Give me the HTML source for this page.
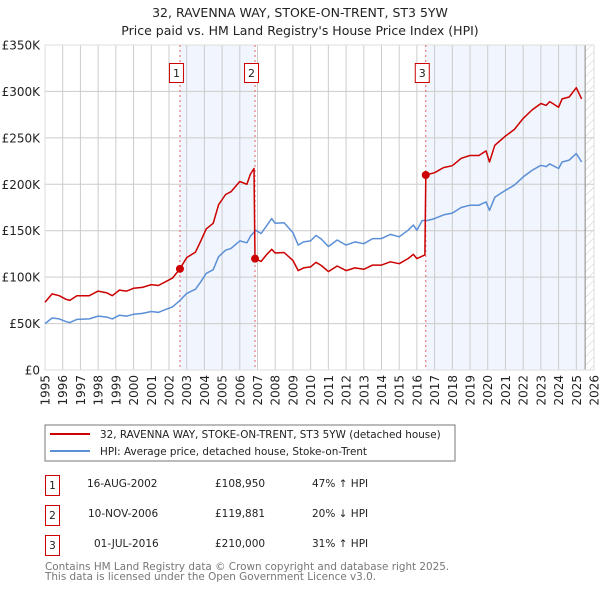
<!DOCTYPE html>
<html><head><meta charset="utf-8"><style>
body{margin:0;background:#fff;font-family:"DejaVu Sans","Liberation Sans",sans-serif;}
svg text{font-family:"DejaVu Sans","Liberation Sans",sans-serif;}
</style></head><body>
<svg id="c" width="600" height="590" xmlns="http://www.w3.org/2000/svg">
<defs><pattern id="hatch" width="6" height="6" patternUnits="userSpaceOnUse" patternTransform="rotate(45)"><line x1="0" y1="0" x2="0" y2="6" stroke="#ccc" stroke-width="1"/></pattern></defs>
<text x="300" y="17" text-anchor="middle" font-size="12.5" fill="#222">32, RAVENNA WAY, STOKE-ON-TRENT, ST3 5YW</text>
<text x="300" y="35" text-anchor="middle" font-size="12.5" fill="#222">Price paid vs. HM Land Registry's House Price Index (HPI)</text>
<g id="plot"></g>
<rect x="45" y="425" width="410" height="36" fill="#fff" stroke="#777"/>
<line x1="50" y1="434" x2="90" y2="434" stroke="#cc0000" stroke-width="2"/>
<text x="100" y="438" font-size="10.4" fill="#222">32, RAVENNA WAY, STOKE-ON-TRENT, ST3 5YW (detached house)</text>
<line x1="50" y1="451" x2="90" y2="451" stroke="#5b8fd6" stroke-width="2"/>
<text x="100" y="455" font-size="10.4" fill="#222">HPI: Average price, detached house, Stoke-on-Trent</text>
<g font-size="10.5" fill="#222">
<rect x="45.5" y="475.5" width="14" height="20" fill="none" stroke="#cc0000"/><text x="52.5" y="489" text-anchor="middle">1</text>
<text x="87" y="487">16-AUG-2002</text><text x="215" y="487">£108,950</text><text x="312" y="487">47% ↑ HPI</text>
<rect x="45.5" y="505.5" width="14" height="20" fill="none" stroke="#cc0000"/><text x="52.5" y="519" text-anchor="middle">2</text>
<text x="88" y="517">10-NOV-2006</text><text x="215" y="517">£119,881</text><text x="312" y="517">20% ↓ HPI</text>
<rect x="45.5" y="535.5" width="14" height="20" fill="none" stroke="#cc0000"/><text x="52.5" y="549" text-anchor="middle">3</text>
<text x="94" y="547">01-JUL-2016</text><text x="215" y="547">£210,000</text><text x="312" y="547">31% ↑ HPI</text>
</g>
<text x="45" y="570" font-size="10.4" fill="#777">Contains HM Land Registry data © Crown copyright and database right 2025.</text>
<text x="45" y="580" font-size="10.4" fill="#777">This data is licensed under the Open Government Licence v3.0.</text>
</svg>
<script>
const hpiT=[1995.0,1995.4,1995.8,1996.2,1996.4,1996.8,1997.5,1998.0,1998.5,1998.8,1999.2,1999.6,2000.0,2000.5,2001.0,2001.4,2001.8,2002.2,2002.6,2003.0,2003.5,2003.8,2004.1,2004.5,2004.8,2005.2,2005.5,2006.0,2006.4,2006.6,2006.9,2007.2,2007.5,2007.8,2008.0,2008.5,2009.0,2009.3,2009.6,2010.0,2010.3,2010.6,2011.0,2011.5,2012.0,2012.5,2013.0,2013.5,2014.0,2014.5,2015.0,2015.5,2015.8,2016.0,2016.3,2016.6,2017.0,2017.5,2018.0,2018.5,2019.0,2019.5,2019.9,2020.1,2020.4,2021.0,2021.5,2022.0,2022.5,2023.0,2023.3,2023.5,2024.0,2024.2,2024.6,2025.0,2025.3];
const hpiV=[50,56,55,52,51,54.5,55,58,57,55,59,58,60,61,63,62,65,68,74.5,82.5,87,95,104,108,122,129,131,139,137,144,150.5,147,155,163,158,158.5,148,134.5,138,139,145,141,133,140,134.5,138,136,141.5,141.5,146,143.5,150.5,156,150.5,161,161,163,167,169,175,177.5,177.5,181,172,186,193.5,199,208,215,220.5,219,222,217,224,226,233,224];
const redT=[1995.0,1995.4,1995.8,1996.2,1996.4,1996.8,1997.5,1998.0,1998.5,1998.8,1999.2,1999.6,2000.0,2000.5,2001.0,2001.4,2001.8,2002.2,2002.62,2003.0,2003.5,2003.8,2004.1,2004.5,2004.8,2005.2,2005.5,2006.0,2006.4,2006.6,2006.8,2006.86,2007.2,2007.5,2007.8,2008.0,2008.5,2009.0,2009.3,2009.6,2010.0,2010.3,2010.6,2011.0,2011.5,2012.0,2012.5,2013.0,2013.5,2014.0,2014.5,2015.0,2015.5,2015.8,2016.0,2016.45,2016.5,2017.0,2017.5,2018.0,2018.5,2019.0,2019.5,2019.9,2020.1,2020.4,2021.0,2021.5,2022.0,2022.5,2023.0,2023.3,2023.5,2024.0,2024.2,2024.6,2025.0,2025.3];
const redV=[73,82,80,76,75,80,80,85,83,80,86,85,88,89,92,91,95,99,108.95,121,127,139,152,158,178,189,192,203,200,211,217,119.881,117,124,130,126,126.5,118,107,110,111,116,112.5,106,112,107,110,108.5,113,113,116.5,114.5,120,124.5,120,124,210,212.5,218,220,228,231,231,236,224,242,252,259,271,280,287,285,289,283,292,294,304,292];
const saleT=[2002.62,2006.86,2016.5];
const saleV=[108.95,119.881,210];
const saleLabels=["1","2","3"];
const yTicks=[0,50,100,150,200,250,300,350];
const yTickLabels=["£0","£50K","£100K","£150K","£200K","£250K","£300K","£350K"];
const xYears=[1995,1996,1997,1998,1999,2000,2001,2002,2003,2004,2005,2006,2007,2008,2009,2010,2011,2012,2013,2014,2015,2016,2017,2018,2019,2020,2021,2022,2023,2024,2025,2026];

const L=45,R=594,T=45,B=370;
const X=t=>L+(t-1995)/(2026-1995)*(R-L);
const Y=v=>B-v/350*(B-T);
const NS="http://www.w3.org/2000/svg";
const g=document.getElementById('plot');
function mk(tag,attrs,parent){const e=document.createElementNS(NS,tag);for(const k in attrs)e.setAttribute(k,attrs[k]);(parent||g).appendChild(e);return e;}

const sh1=mk('rect',{x:X(saleT[0]),y:T,width:X(saleT[1])-X(saleT[0]),height:B-T,fill:'#eef3fd',opacity:0.8});


const sh2=mk('rect',{x:X(saleT[2]),y:T,width:X(2025.5)-X(saleT[2]),height:B-T,fill:'#eef3fd',opacity:0.8});


const ht=mk('rect',{x:X(2025.5),y:T,width:R-X(2025.5),height:B-T,fill:'url(#hatch)'});



xYears.forEach(yr=>{
 const l=mk('line',{x1:X(yr),x2:X(yr),y1:T,y2:B,stroke:'#ccc','stroke-width':1});
 
 
 const tx=mk('text',{x:0,y:0,'font-size':12,fill:'#222','text-anchor':'end',transform:`translate(${X(yr)+4.5},375) rotate(-90)`});
 tx.textContent=yr;
 
 
});
yTicks.forEach((v,i)=>{
 const l=mk('line',{x1:L,x2:R,y1:Y(v),y2:Y(v),stroke:'#ccc','stroke-width':1});
 
 
 const tx=mk('text',{x:40,y:Y(v)+4.5,'font-size':12,fill:'#222','text-anchor':'end'});
 tx.textContent=yTickLabels[i];
 
 
});
const fl=mk('line',{x1:X(2025.5),x2:X(2025.5),y1:T,y2:B,stroke:'#888','stroke-width':1});


const fr=mk('rect',{x:L,y:T,width:R-L,height:B-T,fill:'none',stroke:'#ddd'});



saleT.forEach((t,i)=>{
 const l=mk('line',{x1:X(t),x2:X(t),y1:T,y2:B,stroke:'#e06060','stroke-width':1,'stroke-dasharray':'2,3'});
 
 
});

const pts=(ts,vs)=>ts.map((t,i)=>X(t).toFixed(1)+','+Y(vs[i]).toFixed(1)).join(' ');
const hl=mk('polyline',{points:pts(hpiT,hpiV),fill:'none',stroke:'#5b8fd6','stroke-width':1.5,'stroke-linejoin':'round'});


const rl=mk('polyline',{points:pts(redT,redV),fill:'none',stroke:'#cc0000','stroke-width':1.5,'stroke-linejoin':'round'});



saleT.forEach((t,i)=>{
 const c=mk('circle',{cx:X(t),cy:Y(saleV[i]),r:4,fill:'#cc0000'});
 
 
 const b=mk('rect',{x:X(t)-10.5,y:63.5,width:14,height:19,fill:'#fff',stroke:'#cc0000'});
 
 
 const tx=mk('text',{x:X(t)-3.5,y:77,'font-size':11,fill:'#222','text-anchor':'middle'});
 tx.textContent=saleLabels[i];
 
 
});
</script>
</body></html>
